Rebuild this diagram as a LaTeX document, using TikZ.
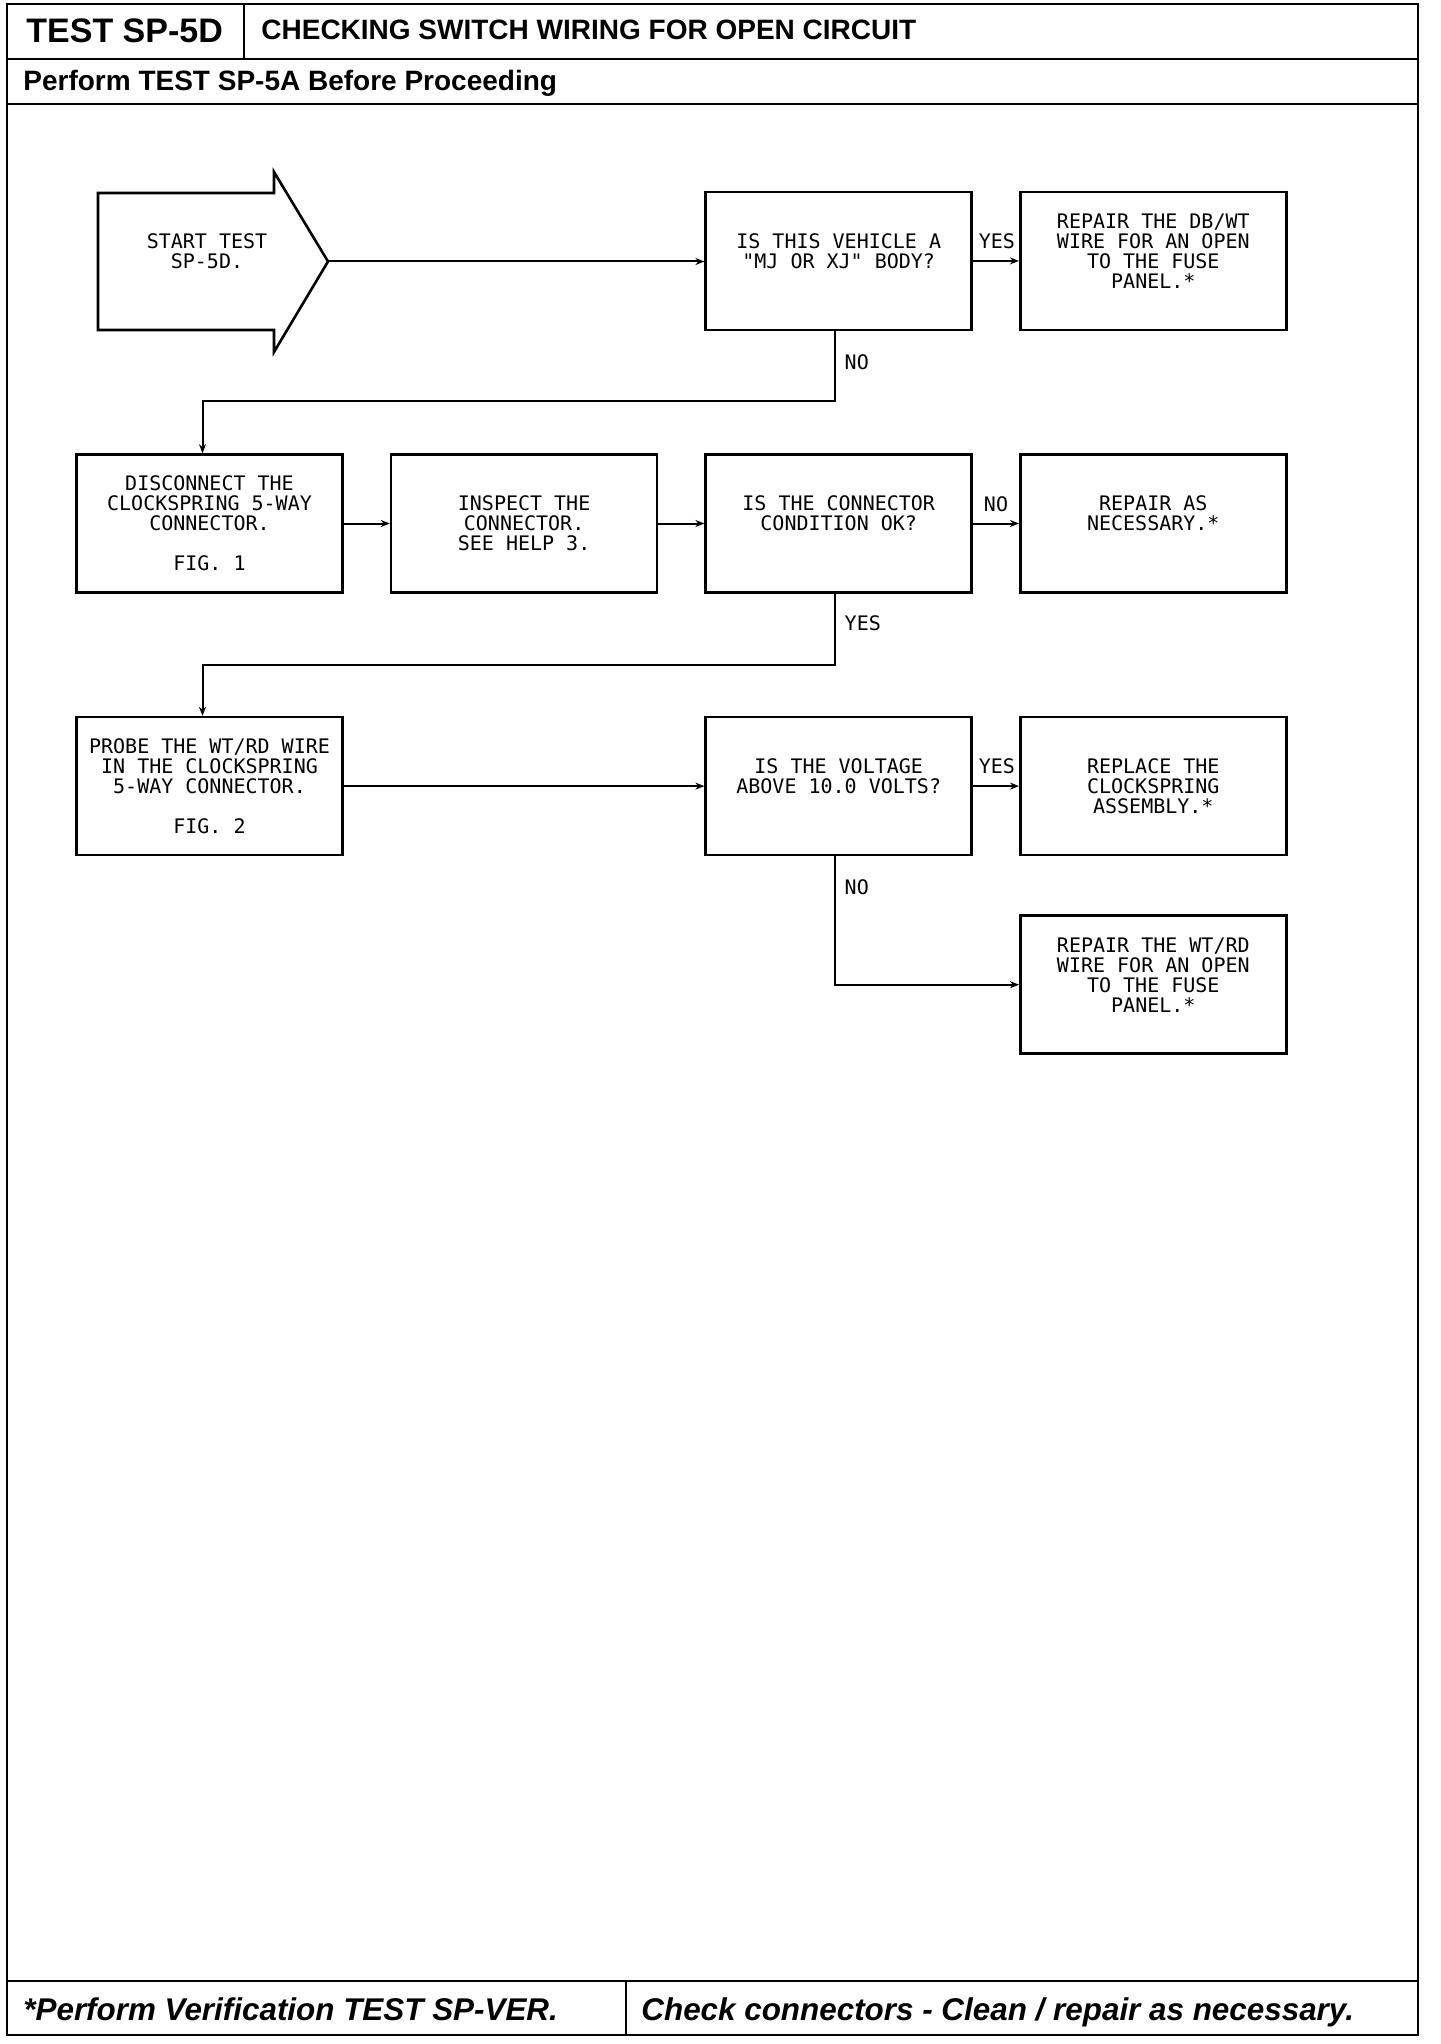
\documentclass[tikz,border=0pt]{standalone}
\usepackage{fontspec}
\setmainfont{Liberation Sans}
\newfontfamily\plotfont{DejaVu Sans Mono}
\usetikzlibrary{arrows.meta, positioning}

\begin{document}
\begin{tikzpicture}[
    x=0.5pt, y=-0.5pt,
    node distance=61pt and 23pt,
    tb/.style={rectangle, draw, line width=1.3pt, minimum width=133pt,
      minimum height=69pt, align=center, inner sep=2pt,
      font=\plotfont\fontsize{10pt}{10pt}\selectfont},
    lbl/.style={font=\plotfont\fontsize{10pt}{10pt}\selectfont, inner sep=1.5pt, align=center},
    hd/.style={anchor=base west, inner sep=0pt, font=\bfseries\fontsize{14pt}{16pt}\selectfont},
    ft/.style={anchor=base west, inner sep=0pt, font=\bfseries\itshape\fontsize{15.7pt}{17pt}\selectfont},
    arr/.style={-{Stealth[length=4.5pt, width=3.5pt]}, line width=1pt},
    frm/.style={line width=1.2pt}
  ]
    \useasboundingbox (0,0) rectangle (1440,2044);

    % sheet frame
    \draw[frm] (7,4) rectangle (1418,2035);
    \draw[frm] (244,4) -- (244,59);
    \draw[frm] (7,59) -- (1418,59);
    \draw[frm] (7,104) -- (1418,104);
    \draw[frm] (7,1981) -- (1418,1981);
    \draw[frm] (626,1981) -- (626,2035);

    \node[hd, font=\bfseries\fontsize{17pt}{20pt}\selectfont] (testid) at (26,43) {TEST SP-5D};
    \node[hd] (title) at (261,40) {CHECKING SWITCH WIRING FOR OPEN CIRCUIT};
    \node[hd] (pre) at (23,91) {Perform TEST SP-5A Before Proceeding};
    \node[ft] (ver) at (23,2020) {*Perform Verification TEST SP-VER.};
    \node[ft] (clean) at (641,2020) {Check connectors - Clean / repair as necessary.};

    % start arrow
    \draw[line width=1.3pt] (98,193) -- (274,193) -- (274,172) -- (328,261.5) coordinate (starttip)
      -- (274,352) -- (274,330) -- (98,330) -- cycle;
    \node[lbl] (start) at (207,261) {START TEST\\SP-5D.\\ \mbox{}};

    % flow boxes
    \node[tb] (disc) at (209.5,523.5) {DISCONNECT THE\\CLOCKSPRING 5-WAY\\CONNECTOR.\\ \mbox{}\\FIG. 1};
    \node[tb, right=of disc] (insp) {INSPECT THE\\CONNECTOR.\\SEE HELP 3.};
    \node[tb, right=of insp] (q2) {IS THE CONNECTOR\\CONDITION OK?\\ \mbox{}};
    \node[tb, right=of q2] (r2) {REPAIR AS\\NECESSARY.*\\ \mbox{}};
    \node[tb, above=of q2] (q1) {IS THIS VEHICLE A\\"MJ OR XJ" BODY?\\ \mbox{}};
    \node[tb, above=of r2] (r1) {REPAIR THE DB/WT\\WIRE FOR AN OPEN\\TO THE FUSE\\PANEL.*\\ \mbox{}};
    \node[tb, below=of disc] (probe) {PROBE THE WT/RD WIRE\\IN THE CLOCKSPRING\\5-WAY CONNECTOR.\\ \mbox{}\\FIG. 2};
    \node[tb, below=of q2] (q3) {IS THE VOLTAGE\\ABOVE 10.0 VOLTS?\\ \mbox{}};
    \node[tb, below=of r2] (r3) {REPLACE THE\\CLOCKSPRING\\ASSEMBLY.*};
    \node[tb, below=29pt of r3] (r4) {REPAIR THE WT/RD\\WIRE FOR AN OPEN\\TO THE FUSE\\PANEL.*\\ \mbox{}};

    % connectors
    \draw[arr] (starttip) -- (starttip -| q1.west);
    \draw[arr] (q1) -- (r1) node[lbl, pos=1, above left=4pt and 0pt] (y1) {YES};
    \draw[arr] ([xshift=-2pt]q1.south) -- node[lbl, right=3pt, pos=0.45] (n1) {NO} ++(0,-35pt) -| ([xshift=-3.5pt]disc.north);
    \draw[arr] (disc) -- (insp);
    \draw[arr] (insp) -- (q2);
    \draw[arr] (q2) -- (r2) node[lbl, midway, above=4pt] (n2) {NO};
    \draw[arr] ([xshift=-2pt]q2.south) -- node[lbl, right=3pt, pos=0.42] (y2) {YES} ++(0,-35.5pt) -| ([xshift=-3.5pt]probe.north);
    \draw[arr] (probe) -- (q3);
    \draw[arr] (q3) -- (r3) node[lbl, pos=1, above left=4pt and 0pt] (y3) {YES};
    \draw[arr] ([xshift=-2pt]q3.south) |- node[lbl, right=3pt, pos=0.12] (n3) {NO} (r4.west);
  \end{tikzpicture}
\end{document}
